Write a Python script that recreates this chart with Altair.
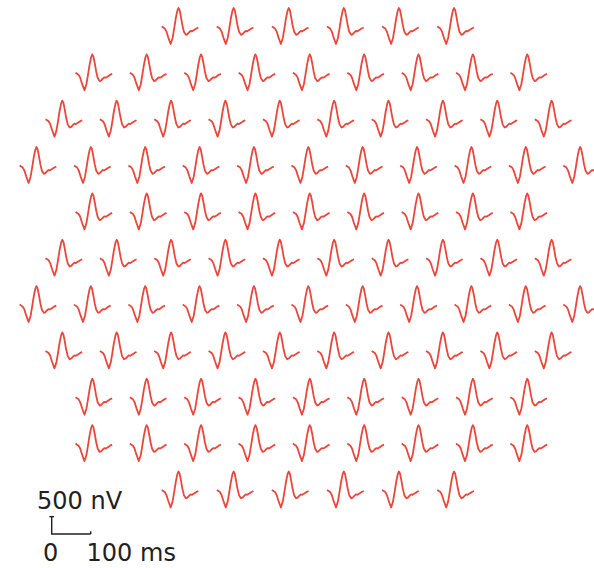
import altair as alt
import pandas as pd

# ---- one focal response (time in ms, amplitude in nV) ----
T_MS = [0, 4, 8, 12, 17, 23, 28, 32, 36, 40, 43, 46, 49, 53, 57, 62, 66, 70, 74, 78, 82, 86, 90, 94]
V_NV = [0, -30, -60, -140, -320, -505, -330, -60, 230, 450, 535, 470, 300, 40, -150, -240, -220, -170, -130, -140, -110, -80, -50, -30]

# ---- layout of the trace array (rows of the hexagonal field) ----
ROW_COUNTS = [6, 9, 10, 11, 9, 10, 11, 10, 9, 9, 6]
ROW_FIRST_MS = [414.6, 193.6, 116.7, 50.4, 193.6, 116.7, 50.4, 116.7, 193.6, 193.6, 414.6]
ROW_STEP_MS = [141.3, 139.4, 139.4, 139.4, 139.4, 139.4, 139.4, 139.4, 139.4, 139.4, 141.3]
ROW_BASE_NV = [-766, -2105, -3445, -4784, -6124, -7463, -8803, -10142, -11482, -12821, -14161]

# ---- calibration bar ----
BAR_T0_MS = 132.6
BAR_V0_NV = -15432
BAR_T_LEN = 100
BAR_V_LEN = 500
LABELS = ["500 nV", "0", "100 ms"]
LABEL_T = [95.0, 110.0, 222.0]
LABEL_V = [-14711, -16214, -16214]

X_DOMAIN = [0, 1523.1]
Y_DOMAIN = [-16416, 0]
RED = "#EB463C"
INK = "#231F20"

rows = []
tid = 0
for r, n in enumerate(ROW_COUNTS):
    for k in range(n):
        t0 = ROW_FIRST_MS[r] + k * ROW_STEP_MS[r]
        for i, (t, v) in enumerate(zip(T_MS, V_NV)):
            rows.append({"trace": tid, "i": i, "x": t0 + t, "y": ROW_BASE_NV[r] + v})
        tid += 1
traces = pd.DataFrame(rows)

xs = alt.Scale(domain=X_DOMAIN, nice=False, zero=False)
ys = alt.Scale(domain=Y_DOMAIN, nice=False, zero=False)

lines = alt.Chart(traces).mark_line(color=RED, strokeWidth=1.8, strokeJoin="round").encode(
    x=alt.X("x:Q", scale=xs, axis=None),
    y=alt.Y("y:Q", scale=ys, axis=None),
    detail="trace:N",
    order="i:Q",
)

bar = pd.DataFrame({
    "x": [BAR_T0_MS, BAR_T0_MS, BAR_T0_MS + BAR_T_LEN],
    "y": [BAR_V0_NV + BAR_V_LEN, BAR_V0_NV, BAR_V0_NV],
    "i": [0, 1, 2],
})
bar_line = alt.Chart(bar).mark_line(color=INK, strokeWidth=1.4).encode(
    x=alt.X("x:Q", scale=xs, axis=None),
    y=alt.Y("y:Q", scale=ys, axis=None),
    order="i:Q",
)

ticks = pd.DataFrame({
    "x": [BAR_T0_MS - 6, BAR_T0_MS + BAR_T_LEN],
    "x2": [BAR_T0_MS + 6, BAR_T0_MS + BAR_T_LEN],
    "y": [BAR_V0_NV + BAR_V_LEN, BAR_V0_NV],
    "y2": [BAR_V0_NV + BAR_V_LEN, BAR_V0_NV + 75],
})
tick_rules = alt.Chart(ticks).mark_rule(color=INK, strokeWidth=1.4).encode(
    x=alt.X("x:Q", scale=xs, axis=None),
    x2="x2:Q",
    y=alt.Y("y:Q", scale=ys, axis=None),
    y2="y2:Q",
)

lab = pd.DataFrame({"label": LABELS, "x": LABEL_T, "y": LABEL_V})
texts = alt.Chart(lab).mark_text(
    align="left", baseline="alphabetic", font="DejaVu Sans", fontSize=24, color=INK
).encode(
    x=alt.X("x:Q", scale=xs, axis=None),
    y=alt.Y("y:Q", scale=ys, axis=None),
    text="label:N",
)

chart = alt.layer(lines, bar_line, tick_rules, texts).properties(
    width=594, height=568, autosize=alt.AutoSizeParams(type="none"), padding=0
).configure_view(stroke=None)

chart.save("out.html", embed_options={"renderer": "svg", "actions": False})
